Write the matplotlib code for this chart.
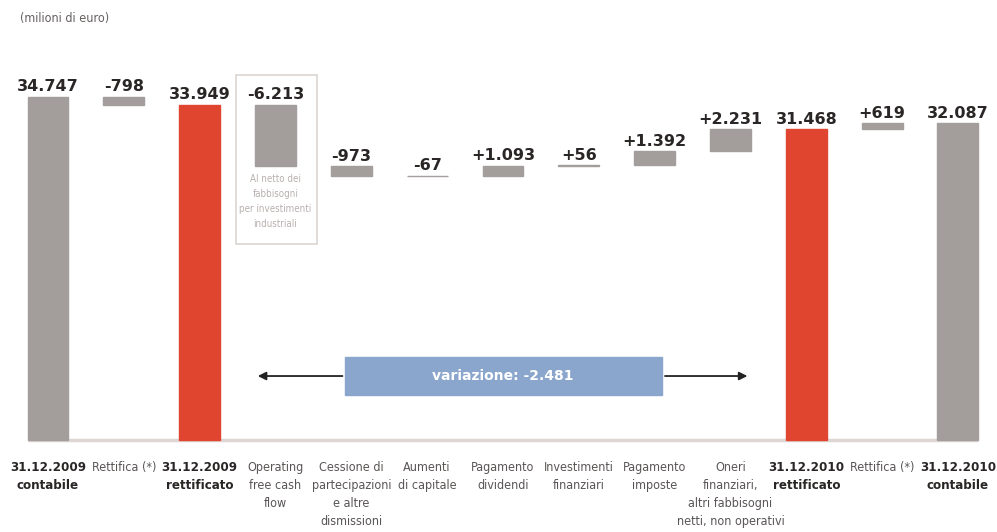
import numpy as np
import matplotlib
matplotlib.use("Agg")
import matplotlib.pyplot as plt
from matplotlib.patches import Rectangle

# data
categories = ["31.12.2009\ncontabile", "Rettifica (*)", "31.12.2009\nrettificato",
              "Operating\nfree cash\nflow", "Cessione di\npartecipazioni\ne altre\ndismissioni",
              "Aumenti\ndi capitale", "Pagamento\ndividendi", "Investimenti\nfinanziari",
              "Pagamento\nimposte", "Oneri\nfinanziari,\naltri fabbisogni\nnetti, non operativi",
              "31.12.2010\nrettificato", "Rettifica (*)", "31.12.2010\ncontabile"]
values = [34747, -798, 33949, -6213, -973, -67, 1093, 56, 1392, 2231, 31468, 619, 32087]
is_total = [True, False, True, False, False, False, False, False, False, False, True, False, True]
value_labels = ["34.747", "-798", "33.949", "-6.213", "-973", "-67", "+1.093", "+56",
                "+1.392", "+2.231", "31.468", "+619", "32.087"]
bold_cats = [0, 2, 10, 12]
red_cats = [2, 10]
variation_text = "variazione: -2.481"
note_text = "Al netto dei\nfabbisogni\nper investimenti\nindustriali"

GRAY = "#a39d9c"
RED = "#e0462f"
BLUE = "#8ba6cc"
LIGHT = "#ddd6d2"

# waterfall bottoms / heights
bottoms, heights = [], []
level = 0
for v, t in zip(values, is_total):
    if t:
        bottoms.append(0)
        heights.append(v)
        level = v
    else:
        bottoms.append(level + min(v, 0))
        heights.append(abs(v))
        level += v

x = np.arange(len(values))
colors = [RED if i in red_cats else GRAY for i in x]

fig = plt.figure(figsize=(9.97, 5.32), dpi=100)
ax = fig.add_axes([0, 0, 1, 1])
ax.set_xlim(-0.633, 12.515)
ax.set_ylim(-9320, 44570)
ax.axis("off")


def stacked_text(xc, y0, text, step, **kw):
    # one text object per line, so long lines don't collide with neighbours
    for j, line in enumerate(text.split("\n")):
        ax.text(xc, y0 - j * step, line, ha="center", va="center", **kw)


ax.hlines(0, -0.27, 12.27, color=LIGHT, lw=2.5, zorder=1)
ax.bar(x, heights, bottom=bottoms, width=0.54, color=colors,
       edgecolor=colors, linewidth=1, zorder=2)

for i in x:
    top = bottoms[i] + heights[i]
    ax.annotate(value_labels[i], (i, top), xytext=(0, 4), textcoords="offset points",
                ha="center", va="baseline", fontsize=11.5, fontweight="bold",
                color="#2a2626")

for i, c in enumerate(categories):
    if i in bold_cats:
        stacked_text(i, -2750, c, 1900, fontsize=9.5, fontweight="bold",
                     fontstretch="condensed", color="#2a2626")
    else:
        stacked_text(i, -2750, c, 1850, fontsize=9, fontstretch="condensed",
                     color="#5a5555")

# box around operating free cash flow
ax.add_patch(Rectangle((2.48, 19850), 1.07, 17100, fill=False, ec=LIGHT, lw=1.2, zorder=1))
stacked_text(3, 26440, note_text, 1520, fontsize=7, fontstretch="condensed",
             color="#b8b0ae")

# variation box + arrows
ax.add_patch(Rectangle((3.92, 4560), 4.18, 3850, color=BLUE, zorder=2))
ax.text(6.0, 6480, variation_text, ha="center", va="center", fontsize=10,
        color="white", fontweight="bold")
ax.annotate("", xy=(2.73, 6480), xytext=(3.92, 6480),
            arrowprops=dict(arrowstyle="-|>", color="#222222", lw=1.3, mutation_scale=12))
ax.annotate("", xy=(9.26, 6480), xytext=(8.10, 6480),
            arrowprops=dict(arrowstyle="-|>", color="#222222", lw=1.3, mutation_scale=12))

fig.text(0.02, 0.965, "(milioni di euro)", ha="left", va="center", fontsize=9,
         fontstretch="condensed", color="#666060")

fig.savefig("out.png", dpi=100)
